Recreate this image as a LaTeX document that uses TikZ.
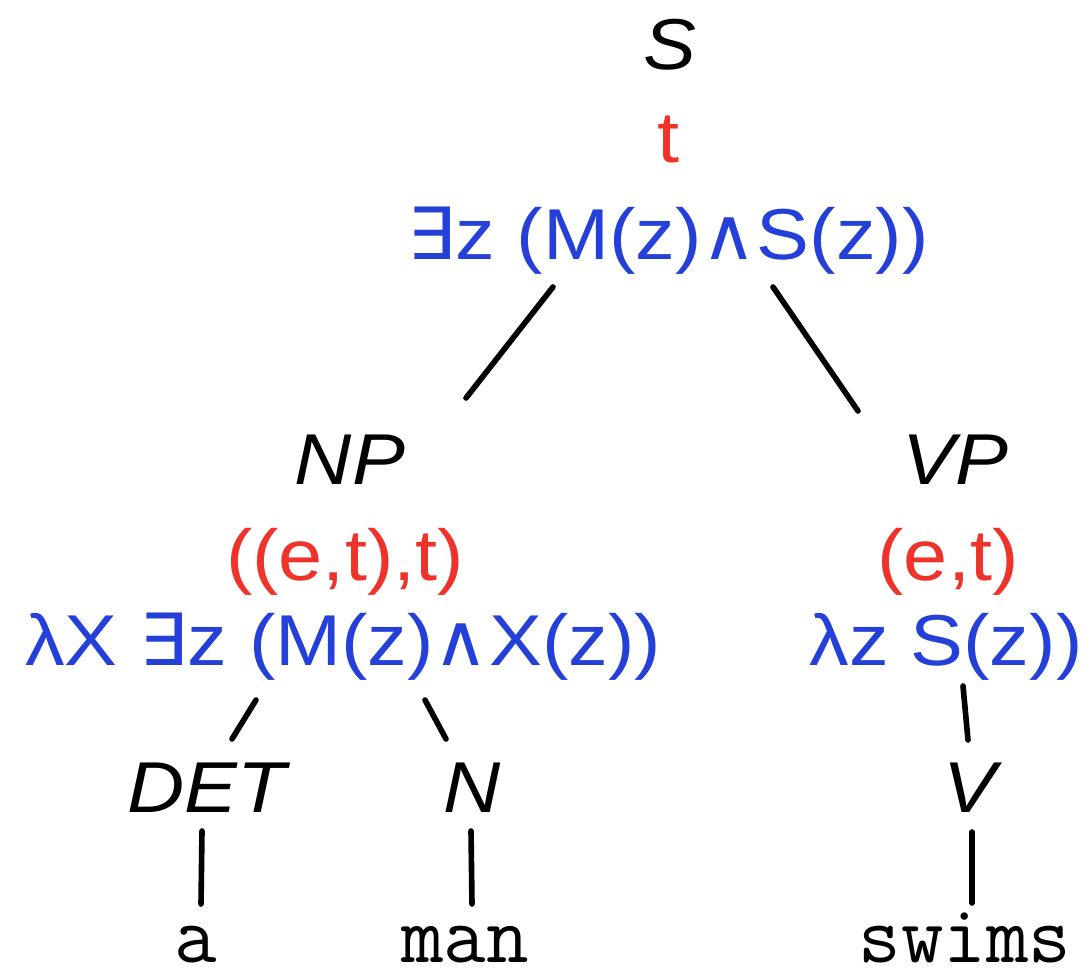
\documentclass[tikz,border=0pt]{standalone}
\usepackage{fontspec}
\setmainfont{Liberation Sans}[FakeStretch=1.1]
\newfontfamily\symfam{DejaVu Sans}[FakeStretch=1.05]
\usetikzlibrary{calc}
\definecolor{typered}{RGB}{238,51,42}
\definecolor{semblue}{RGB}{36,64,216}
\newcommand{\exi}{{\symfam ∃}}
\newcommand{\conj}{{\symfam ∧}}

\begin{document}
\begin{tikzpicture}[x=0.02cm, y=-0.02cm, line cap=round,
    cat/.style={anchor=base, inner sep=0pt, font=\fontsize{41}{49}\selectfont\itshape},
    typ/.style={anchor=base, inner sep=0pt, text=typered, font=\fontsize{41}{49}\selectfont},
    sem/.style={anchor=base, inner sep=0pt, text=semblue, font=\fontsize{41}{49}\selectfont},
    word/.style={anchor=base, inner sep=0pt, font=\fontsize{47}{55}\selectfont\ttfamily},
    branch/.style={line width=3.2pt}]
\useasboundingbox (0,0) rectangle (1091,972);

% root
\node[cat] (s) at (670,70) {S};
\node[typ] (typS) at (668,163) {t};
\node[sem] (semS) at (668,260) {\exi z (M(z)\conj S(z))};

% subject and predicate
\node[cat] (np) at (350,485) {NP};
\node[typ] (typNP) at (345,580) {((e,t),t)};
\node[sem] (semNP) at (343,665) {λX \exi z (M(z)\conj X(z))};
\node[cat] (vp) at (955,485) {VP};
\node[typ] (typVP) at (948,580) {(e,t)};
\node[sem] (semVP) at (946,665) {λz S(z))};

% lexical categories
\node[cat] (det) at (207,812) {DET};
\node[cat] (n) at (472,812) {N};
\node[cat] (v) at (970,812) {V};

% words
\node[word] (a) at (196,962) {a};
\node[word] (man) at (465,962) {man};
\node[word] (swims) at (965,962) {swims};

% branches
\draw[branch] ($(semS.base)+(-115,27)$) -- ($(np.base)+(116,-87)$);
\draw[branch] ($(semS.base)+(105,27)$) -- ($(vp.base)+(-97,-74)$);
\draw[branch] ($(semNP.base)+(-87,35)$) -- ($(det.base)+(25,-73)$);
\draw[branch] ($(semNP.base)+(82,35)$) -- ($(n.base)+(-26,-73)$);
\draw[branch] ($(semVP.base)+(17,21)$) -- ($(v.base)+(-2,-72)$);
\draw[branch] ($(det.base)+(-5,19)$) -- ($(a.base)+(5,-58)$);
\draw[branch] ($(n.base)+(-1,19)$) -- ($(man.base)+(7,-58)$);
\draw[branch] ($(v.base)+(2,20)$) -- ($(swims.base)+(7,-59)$);
\end{tikzpicture}
\end{document}
